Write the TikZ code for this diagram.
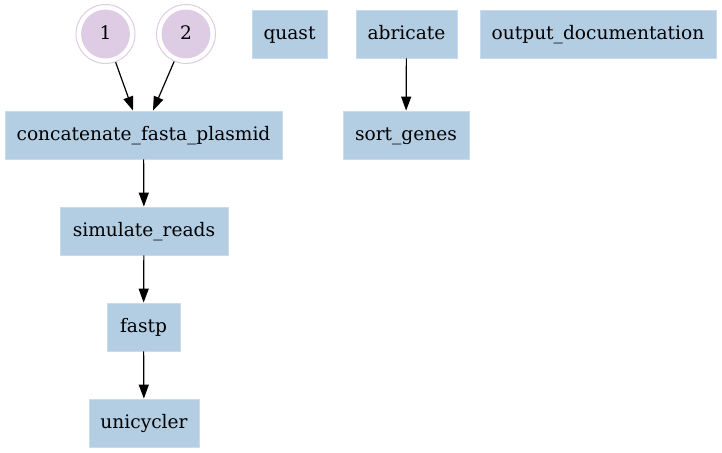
\documentclass[tikz,border=0pt]{standalone}
\usepackage{fontspec}
\setmainfont{DejaVu Serif}
\usetikzlibrary{arrows.meta,calc}
\definecolor{boxblue}{HTML}{B3CDE3}
\definecolor{lilac}{HTML}{DECBE4}
\begin{document}
\begin{tikzpicture}[x=0.5pt,y=-0.5pt,
  every node/.style={font=\fontsize{9.3}{11}\selectfont},
  proc/.style={rectangle,fill=boxblue,draw=boxblue!70!white,line width=0.4pt,minimum height=24pt,inner sep=0pt,text height=7pt,text depth=1.5pt},
  ring/.style={circle,draw=lilac,line width=0.5pt,minimum size=29.5pt,inner sep=0pt,text height=7pt,text depth=1.5pt,
    path picture={\fill[lilac] (path picture bounding box.center) circle (12.2pt);}},
  arr/.style={line width=0.6pt,-{Triangle[length=7pt,width=5pt]}}]
\useasboundingbox (0,0) rectangle (722,453);
\node[ring] (c1) at (105.5,34) {1};
\node[ring] (c2) at (186,34) {2};
\node[proc,minimum width=37.5pt] (quast) at (289.5,34) {quast};
\node[proc,minimum width=50.5pt] (abricate) at (406.5,34) {abricate};
\node[proc,minimum width=118pt] (outdoc) at (598,34) {output\_documentation};
\node[proc,minimum width=138.5pt] (concat) at (143.5,135) {concatenate\_fasta\_plasmid};
\node[proc,minimum width=63pt] (sortg) at (406,135) {sort\_genes};
\node[proc,minimum width=84pt] (sim) at (144,231) {simulate\_reads};
\node[proc,minimum width=36.5pt] (fastp) at (143.5,327) {fastp};
\node[proc,minimum width=55pt] (uni) at (144,423) {unicycler};
\coordinate (e1) at ($(concat.north)+(-10.5,0)$);
\coordinate (e2) at ($(concat.north)+(9.5,0)$);
\draw[arr] (c1) -- (e1);
\draw[arr] (c2) -- (e2);
\draw[arr] (abricate) -- (sortg);
\draw[arr] (concat) -- (sim);
\draw[arr] (sim) -- (fastp);
\draw[arr] (fastp) -- (uni);
\end{tikzpicture}
\end{document}
